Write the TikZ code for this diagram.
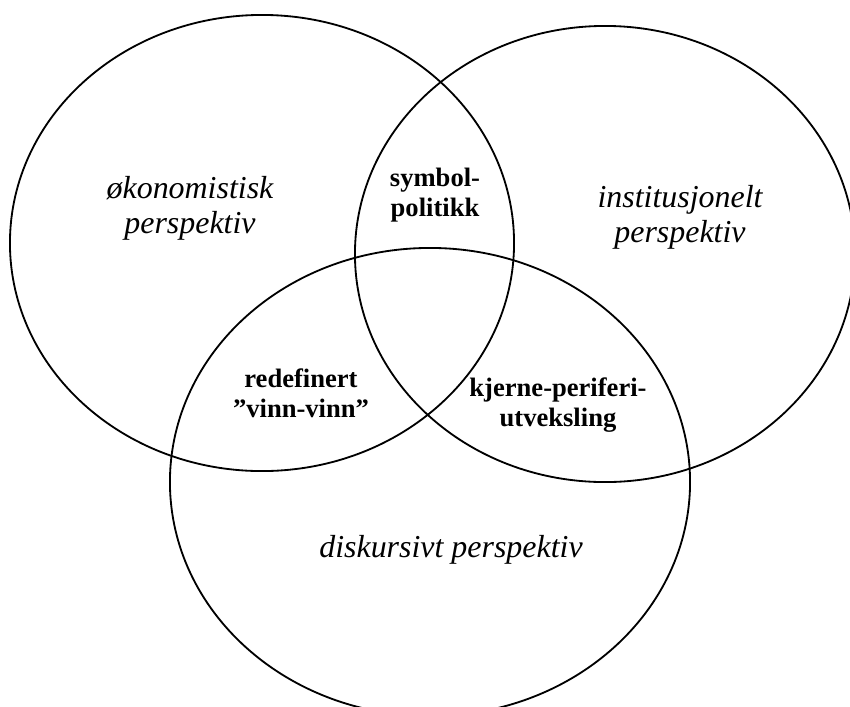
\documentclass[tikz,border=0pt]{standalone}
\usepackage{fontspec}
\setmainfont{Liberation Serif}
\usepackage{tikz}
\usetikzlibrary{calc, positioning, shapes}

\begin{document}
\begin{tikzpicture}[x=0.025cm, y=-0.025cm]
		\tikzstyle{set} = [draw=black, line width=1.3pt, ellipse, inner sep=0pt]
		\tikzstyle{persp} = [draw=none, align=center, font=\fontsize{22.7}{24.9}\selectfont\itshape]
		\tikzstyle{overlap} = [draw=none, align=center, font=\fontsize{18.9}{21.3}\selectfont\bfseries]
		
		\clip (0, 0) rectangle (850, 706);
		
		\node[set, minimum width=12.6cm, minimum height=11.4cm]	at (262, 243)	(okon)	{};
		\node[set, minimum width=12.5cm, minimum height=11.4cm]	at (605, 254)	(inst)	{};
		\node[set, minimum width=13cm, minimum height=11.7cm]	at (430, 482)	(disk)	{};
		
		\node[persp]	at (190, 208)	(okonlabel)	{økonomistisk\\perspektiv};
		\node[persp]	at (680, 217)	(instlabel)	{institusjonelt\\perspektiv};
		\node[persp]	at (451, 550)	(disklabel)	{diskursivt perspektiv};
		
		\node[overlap]	at (435, 195)	(symbol)	{symbol-\\politikk};
		\node[overlap]	at (301, 393)	(vinn)		{redefinert\\”vinn-vinn”};
		\node[overlap]	at (558, 405)	(kjerne)	{kjerne-periferi-\\utveksling};
	\end{tikzpicture}
\end{document}
